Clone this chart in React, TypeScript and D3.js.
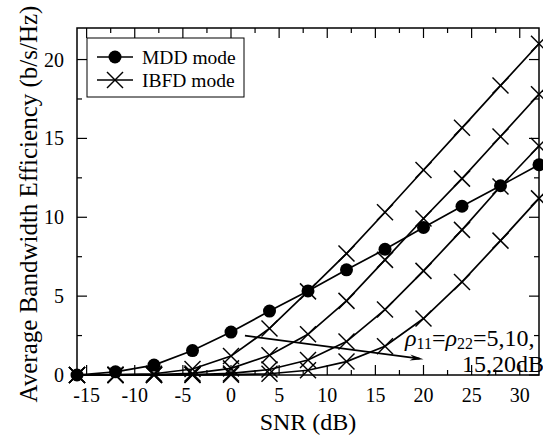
import React from "react";
import * as d3 from "d3";

const snr = [-16, -12, -8, -4, 0, 4, 8, 12, 16, 20, 24, 28, 32];
const mddMode = [0, 0.2, 0.63, 1.55, 2.72, 4.05, 5.33, 6.67, 7.97, 9.35, 10.7, 12.0, 13.33];
const ibfdRho5 = [0, 0.02, 0.08, 0.38, 1.2, 2.95, 5.3, 7.7, 10.32, 13.0, 15.67, 18.35, 21.0];
const ibfdRho10 = [0, 0, 0.02, 0.1, 0.42, 1.25, 2.58, 4.7, 7.3, 9.92, 12.45, 15.12, 17.8];
const ibfdRho15 = [0, 0, 0, 0.02, 0.1, 0.35, 0.95, 2.12, 4.15, 6.6, 9.2, 11.95, 14.52];
const ibfdRho20 = [0, 0, 0, 0, 0.02, 0.08, 0.3, 0.85, 1.82, 3.58, 5.9, 8.52, 11.2];
const ibfdSeries = [ibfdRho5, ibfdRho10, ibfdRho15, ibfdRho20];

const xMajorTicks = [-15, -10, -5, 0, 5, 10, 15, 20, 25, 30];
const xMinorTicks = [-12.5, -7.5, -2.5, 2.5, 7.5, 12.5, 17.5, 22.5, 27.5];
const yMajorTicks = [0, 5, 10, 15, 20];
const yMinorTicks = [2.5, 7.5, 12.5, 17.5];

const legendLabels = ["MDD mode", "IBFD mode"];
const xLabel = "SNR (dB)";
const yLabel = "Average Bandwidth Efficiency (b/s/Hz)";
const arrowFrom = [1.45, 2.49];
const arrowTo = [20, 1.0];

const W = 543;
const H = 437;
const M = { left: 77, top: 28, right: 539, bottom: 375 };
const FONT = "'Liberation Serif', 'Times New Roman', serif";

function XMark({ x, y, s = 8 }: { x: number; y: number; s?: number }) {
  return (
    <g stroke="#000" strokeWidth={1.5}>
      <line x1={x - s} y1={y - s} x2={x + s} y2={y + s} />
      <line x1={x - s} y1={y + s} x2={x + s} y2={y - s} />
    </g>
  );
}

export default function App() {
  const x = d3.scaleLinear().domain([-16, 32]).range([M.left, M.right]);
  const y = d3.scaleLinear().domain([0, 22]).range([M.bottom, M.top]);
  const line = d3
    .line<number>()
    .x((_, i) => x(snr[i]))
    .y((d) => y(d));

  const ax1 = x(arrowFrom[0]);
  const ay1 = y(arrowFrom[1]);
  const ax2 = x(arrowTo[0]);
  const ay2 = y(arrowTo[1]);
  const ang = Math.atan2(ay2 - ay1, ax2 - ax1);
  const hl = 14;
  const hw = 0.22;
  const head = [
    [ax2, ay2],
    [ax2 - hl * Math.cos(ang - hw), ay2 - hl * Math.sin(ang - hw)],
    [ax2 - hl * 0.7 * Math.cos(ang), ay2 - hl * 0.7 * Math.sin(ang)],
    [ax2 - hl * Math.cos(ang + hw), ay2 - hl * Math.sin(ang + hw)],
  ];

  return (
    <div style={{ position: "absolute", left: 0, top: 0 }}>
      <svg width={W} height={H} style={{ display: "block", background: "#fff" }} fontFamily={FONT}>
        <rect x={0} y={0} width={W} height={H} fill="#fff" />
        {/* ticks */}
        <g stroke="#000" strokeWidth={1.2}>
          {xMajorTicks.map((t) => (
            <g key={"xM" + t}>
              <line x1={x(t)} x2={x(t)} y1={M.bottom} y2={M.bottom - 10} />
              <line x1={x(t)} x2={x(t)} y1={M.top} y2={M.top + 10} />
            </g>
          ))}
          {xMinorTicks.map((t) => (
            <g key={"xm" + t}>
              <line x1={x(t)} x2={x(t)} y1={M.bottom} y2={M.bottom - 5} />
              <line x1={x(t)} x2={x(t)} y1={M.top} y2={M.top + 5} />
            </g>
          ))}
          {yMajorTicks.map((t) => (
            <g key={"yM" + t}>
              <line x1={M.left} x2={M.left + 10} y1={y(t)} y2={y(t)} />
              <line x1={M.right} x2={M.right - 10} y1={y(t)} y2={y(t)} />
            </g>
          ))}
          {yMinorTicks.map((t) => (
            <g key={"ym" + t}>
              <line x1={M.left} x2={M.left + 5} y1={y(t)} y2={y(t)} />
              <line x1={M.right} x2={M.right - 5} y1={y(t)} y2={y(t)} />
            </g>
          ))}
        </g>
        {/* frame */}
        <rect
          x={M.left}
          y={M.top}
          width={M.right - M.left}
          height={M.bottom - M.top}
          fill="none"
          stroke="#000"
          strokeWidth={1.5}
        />
        {/* tick labels */}
        <g fontSize={20} fill="#000">
          {xMajorTicks.map((t) => (
            <text key={"xl" + t} x={x(t)} y={402} textAnchor="middle">
              {t < 0 ? "-" + Math.abs(t) : String(t)}
            </text>
          ))}
          {yMajorTicks.map((t) => (
            <text key={"yl" + t} x={64} y={y(t) + 7} textAnchor="end">
              {t}
            </text>
          ))}
        </g>
        {/* axis labels */}
        <text x={308} y={430} textAnchor="middle" fontSize={24}>
          {xLabel}
        </text>
        <text transform="translate(37,204) rotate(-90)" textAnchor="middle" fontSize={25}>
          {yLabel}
        </text>
        {/* IBFD series */}
        {ibfdSeries.map((s, k) => (
          <g key={"ib" + k}>
            <path d={line(s) || ""} fill="none" stroke="#000" strokeWidth={1.7} />
            {s.map((v, i) => (
              <XMark key={i} x={x(snr[i])} y={y(v)} />
            ))}
          </g>
        ))}
        {/* MDD series */}
        <path d={line(mddMode) || ""} fill="none" stroke="#000" strokeWidth={1.7} />
        {mddMode.map((v, i) => (
          <circle key={"m" + i} cx={x(snr[i])} cy={y(v)} r={6.5} fill="#000" />
        ))}
        {/* arrow */}
        <line x1={ax1} y1={ay1} x2={ax2 - 4 * Math.cos(ang)} y2={ay2 - 4 * Math.sin(ang)} stroke="#000" strokeWidth={1.8} />
        <polygon points={head.map((p) => p.join(",")).join(" ")} fill="#000" />
        {/* annotation */}
        <text x={405} y={346} fontSize={24}>
          <tspan fontStyle="italic">ρ</tspan>
          <tspan fontSize={16} dy={3}>11</tspan>
          <tspan dy={-3}>=</tspan>
          <tspan fontStyle="italic">ρ</tspan>
          <tspan fontSize={16} dy={3}>22</tspan>
          <tspan dy={-3}>=5,10,</tspan>
        </text>
        <text x={462} y={372} fontSize={24}>
          15,20dB
        </text>
        {/* legend */}
        <rect x={87} y={38} width={157} height={59} fill="#fff" stroke="#000" strokeWidth={1} />
        <line x1={97} x2={133} y1={57} y2={57} stroke="#000" strokeWidth={1.6} />
        <circle cx={115} cy={57} r={6.5} fill="#000" />
        <line x1={97} x2={133} y1={80} y2={80} stroke="#000" strokeWidth={1.6} />
        <XMark x={115} y={80} />
        <text x={142} y={64} fontSize={19.5}>
          {legendLabels[0]}
        </text>
        <text x={142} y={87} fontSize={19.5}>
          {legendLabels[1]}
        </text>
      </svg>
    </div>
  );
}
